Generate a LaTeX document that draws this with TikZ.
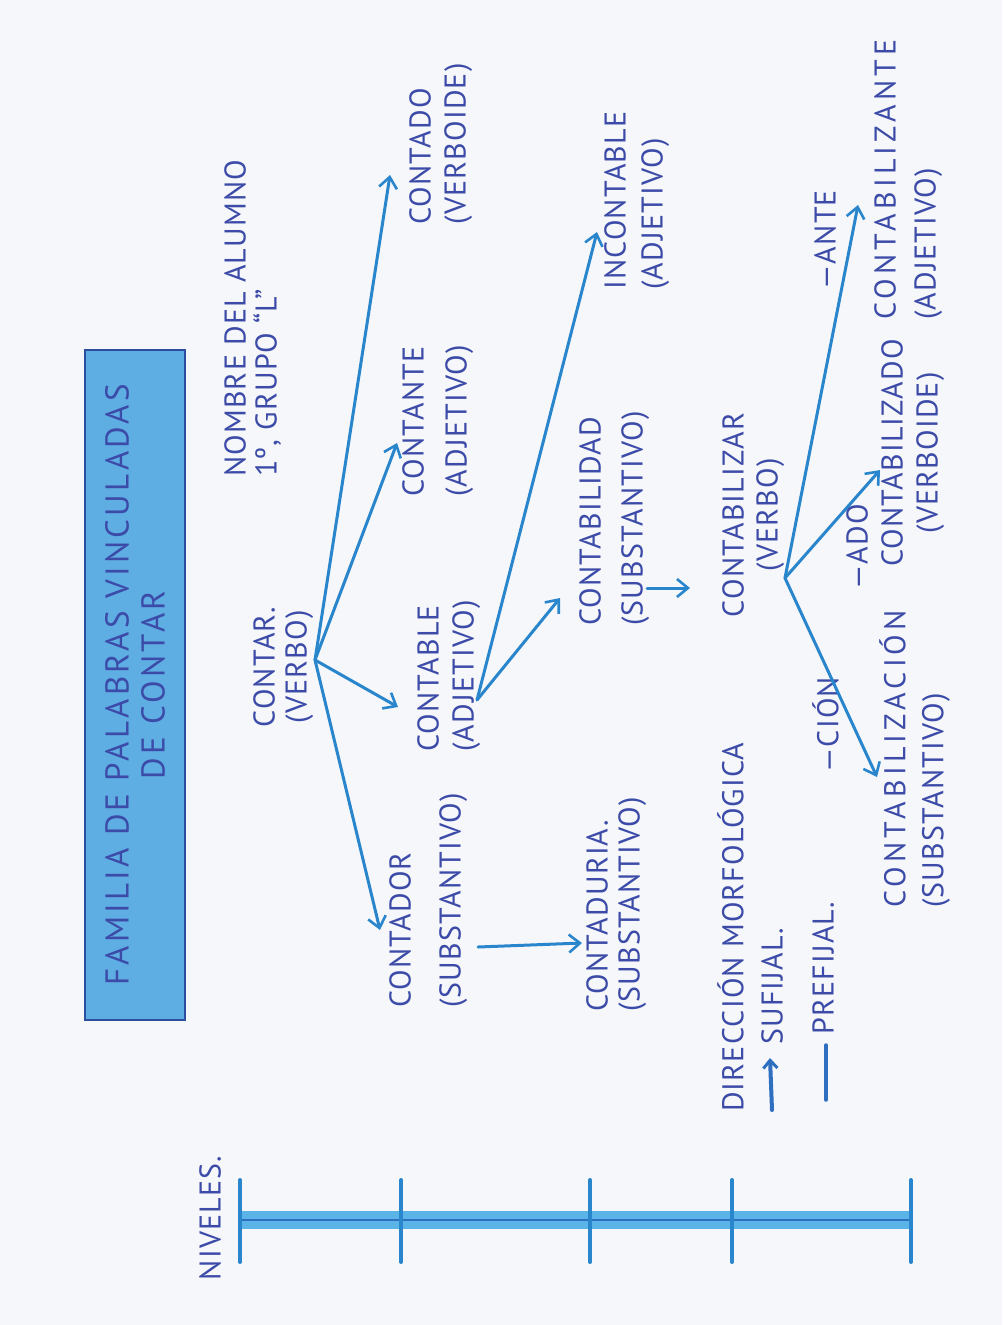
\documentclass[tikz,border=0pt]{standalone}
\usepackage{fontspec}
\setmainfont{PT Sans}[LetterSpace=4]
\newfontfamily\widefont{PT Sans}[LetterSpace=14]
\newfontfamily\titlefont{PT Sans}[LetterSpace=10]
\usetikzlibrary{arrows.meta}
\definecolor{ink}{HTML}{3C4BA8}
\definecolor{arr}{HTML}{2A86CC}
\definecolor{boxfill}{HTML}{5EAEE4}
\definecolor{boxline}{HTML}{2B4E9E}
\definecolor{paper}{HTML}{F6F7FA}
\definecolor{barlight}{HTML}{5AB4E8}
\definecolor{bardark}{HTML}{2F6FC0}
\begin{document}
\begin{tikzpicture}[x=1pt,y=-1pt,
  ls/.style={font=\fontsize{30}{#1}\selectfont},
  lbl/.style={rotate=90, ls=36, text=ink, inner sep=0pt, align=left, anchor=north west},
  lblc/.style={rotate=90, ls=36, text=ink, inner sep=0pt, align=center, anchor=north},
  conn/.style={draw=arr, line width=3pt, line cap=round, -{Straight Barb[length=11pt,width=18pt,line width=2.6pt]}},
  tick/.style={draw=arr, line width=4pt, line cap=round},
]
\fill[paper] (0,0) rectangle (1002,1325);
\useasboundingbox (0,0) rectangle (1002,1325);

% title
\node[draw=boxline, fill=boxfill, line width=1.8pt, minimum width=670pt, minimum height=100pt,
      rotate=90, inner sep=0pt, align=center, text=ink, font=\titlefont\fontsize{33}{36}\selectfont] (title) at (135,685)
      {FAMILIA DE PALABRAS VINCULADAS\\DE CONTAR};

% word nodes
\node[lbl, ls=31] (nombre) at (224,477) {NOMBRE DEL ALUMNO\\1º, GRUPO “L”};
\node[lblc, ls=32] (contar) at (253,667) {CONTAR.\\(VERBO)};
\node[lbl, ls=35] (contado) at (409,225) {CONTADO\\(VERBOIDE)};
\node[lbl, ls=43] (contante) at (402,497) {CONTANTE\\(ADJETIVO)};
\node[lbl, ls=35] (contable) at (417,752) {CONTABLE\\(ADJETIVO)};
\node[lbl, ls=50] (contador) at (389,1008) {CONTADOR\\(SUBSTANTIVO)};
\node[lbl, ls=32] (contaduria) at (586,1012) {CONTADURIA.\\(SUBSTANTIVO)};
\node[lbl, ls=42] (contabilidad) at (579,626) {CONTABILIDAD\\(SUBSTANTIVO)};
\node[lbl, ls=37] (incontable) at (604,290) {INCONTABLE\\(ADJETIVO)};
\node[lblc, ls=34] (contabilizar) at (722,515) {CONTABILIZAR\\(VERBO)};
\node[lbl, ls=38] (contabilizacion) at (879,908) {{\widefont CONTABILIZACIÓN}\\(SUBSTANTIVO)};
\node[lblc, ls=35] (contabilizado) at (881,453) {CONTABILIZADO\\(VERBOIDE)};
\node[lbl, ls=40] (contabilizante) at (874,320) {{\widefont CONTABILIZANTE}\\(ADJETIVO)};

% suffix labels
\node[lbl] (cion) at (812,773) {—CIÓN};
\node[lbl] (ado) at (846,590) {—ADO};
\node[lbl] (ante) at (814,290) {—ANTE};

% legend
\node[lbl] (direccion) at (717,1112) {DIRECCIÓN MORFOLÓGICA};
\node[lbl] (sufijal) at (761,1045) {SUFIJAL.};
\node[lbl] (prefijal) at (812,1035) {PREFIJAL.};
\coordinate (lg0) at (772,1110);
\coordinate (lg1) at (770,1058);
\draw[draw=bardark, line width=4pt, line cap=round, -{Straight Barb[length=8pt,width=14pt,line width=3pt]}] (lg0) -- (lg1);
\coordinate (pf0) at (826,1100);
\coordinate (pf1) at (826,1045);
\draw[draw=bardark, line width=3.5pt, line cap=round] (pf0) -- (pf1);

% connectors
\coordinate (c0) at (315,660);
\coordinate (hcontador) at (380,930);
\coordinate (hcontable) at (398,707);
\coordinate (hcontante) at (397,443);
\coordinate (hcontado) at (390,175);
\draw[conn] (c0) -- (hcontador);
\draw[conn] (c0) -- (hcontable);
\draw[conn] (c0) -- (hcontante);
\draw[conn] (c0) -- (hcontado);

\coordinate (c1) at (477,700);
\coordinate (hcontabilidad) at (560,598);
\coordinate (hincontable) at (597,232);
\draw[conn] (c1) -- (hcontabilidad);
\draw[conn] (c1) -- (hincontable);

\coordinate (d0) at (478,947);
\coordinate (hcontaduria) at (582,943);
\draw[conn] (d0) -- (hcontaduria);

\coordinate (b0) at (647,588);
\coordinate (hcontabilizar) at (690,588);
\draw[conn] (b0) -- (hcontabilizar);

\coordinate (z0) at (785,578);
\coordinate (hcontabilizacion) at (877,777);
\coordinate (hcontabilizado) at (880,470);
\coordinate (hcontabilizante) at (858,205);
\draw[conn] (z0) -- (hcontabilizacion);
\draw[conn] (z0) -- (hcontabilizado);
\draw[conn] (z0) -- (hcontabilizante);

% levels ladder
\node[rotate=90, font=\fontsize{30}{34}\selectfont, text=ink, inner sep=0pt] (niveles) at (210,1218) {NIVELES.};
\coordinate (lv1) at (240,1220);
\coordinate (lv2) at (401,1220);
\coordinate (lv3) at (590,1220);
\coordinate (lv4) at (732,1220);
\coordinate (lv5) at (911,1220);
\draw[barlight, line width=18pt] (lv1) -- (lv5);
\draw[bardark, line width=2.5pt] (lv1) -- (lv5);
\foreach \p in {lv1,lv2,lv3,lv4,lv5}{
  \draw[tick] ([yshift=40pt]\p) -- ([yshift=-42pt]\p);
}
\end{tikzpicture}
\end{document}
